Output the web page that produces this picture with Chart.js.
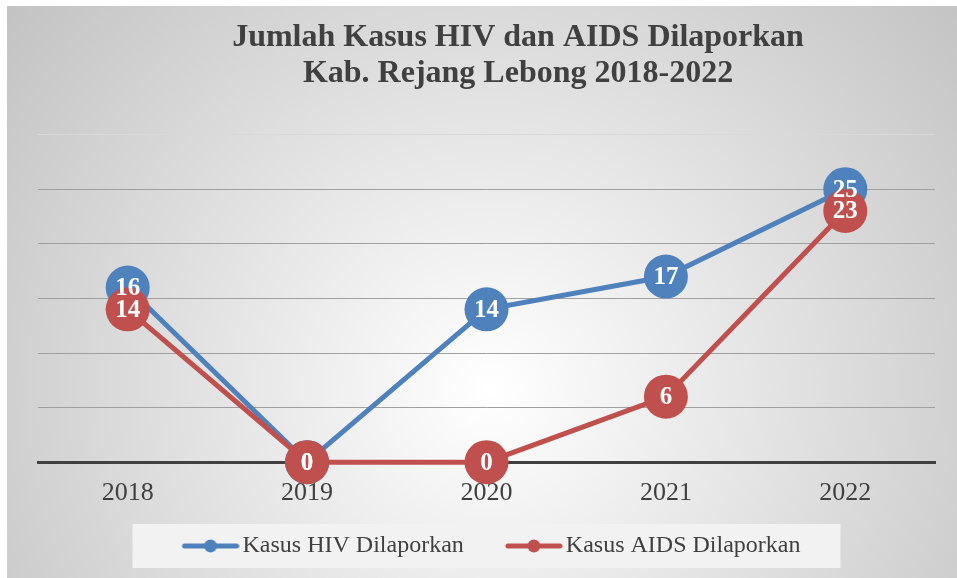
<!DOCTYPE html>
<html>
<head>
<meta charset="utf-8">
<script src="https://cdn.jsdelivr.net/npm/chart.js@4"></script>
<style>
  html, body { margin: 0; padding: 0; background: #fff; }
</style>
</head>
<body>
<canvas id="chart" width="957" height="578"></canvas>
<script>
const years = ["2018", "2019", "2020", "2021", "2022"];
const hivCases = [16, 0, 14, 17, 25];
const aidsCases = [14, 0, 0, 6, 23];
const seriesNames = ["Kasus HIV Dilaporkan", "Kasus AIDS Dilaporkan"];
const titleLines = ["Jumlah Kasus HIV dan AIDS Dilaporkan", "Kab. Rejang Lebong 2018-2022"];

const BLUE = "#4f81bd";
const RED = "#c0504d";
const TEXT = "#404040";

// line + dot symbol for the legend, drawn on the right side of a wider image
function legendSymbol(color) {
    const c = document.createElement("canvas");
    c.width = 99;
    c.height = 14;
    const g = c.getContext("2d");
    g.strokeStyle = color;
    g.lineWidth = 5;
    g.lineCap = "round";
    g.beginPath();
    g.moveTo(44, 7);
    g.lineTo(96, 7);
    g.stroke();
    g.fillStyle = color;
    g.beginPath();
    g.arc(70, 7, 6.5, 0, Math.PI * 2);
    g.fill();
    return c;
}
const legendSymbols = [legendSymbol(BLUE), legendSymbol(RED)];

const background = {
    id: "background",
    beforeDraw(chart) {
        const ctx = chart.ctx;
        ctx.save();
        ctx.fillStyle = "#fff";
        ctx.fillRect(0, 0, chart.width, chart.height);
        const grad = ctx.createRadialGradient(490, 390, 0, 490, 390, 620);
        grad.addColorStop(0, "#ffffff");
        grad.addColorStop(1, "#c2c2c2");
        ctx.fillStyle = grad;
        ctx.fillRect(7, 6, chart.width - 7, chart.height - 6);

        // light box behind the legend
        const hb = chart.legend.legendHitBoxes[0];
        const cx = (chart.chartArea.left + chart.chartArea.right) / 2;
        const cy = hb.top + hb.height / 2;
        ctx.fillStyle = "#f2f2f2";
        ctx.fillRect(cx - 354, cy - 22, 708, 44);
        ctx.restore();
    },
};

// nudge title right and legend left, as in the original
const shiftBlocks = {
    id: "shiftBlocks",
    afterLayout(chart) {
        chart.titleBlock.left += 60;
        chart.legend.left -= 13;
        chart.legend.right -= 13;
    },
};

const pointLabels = {
    id: "pointLabels",
    afterDatasetsDraw(chart) {
        const ctx = chart.ctx;
        ctx.save();
        ctx.font = "bold 25px 'Liberation Serif'";
        ctx.fillStyle = "#fff";
        ctx.textAlign = "center";
        ctx.textBaseline = "middle";
        chart.data.datasets.forEach((ds, i) => {
            chart.getDatasetMeta(i).data.forEach((pt, j) => {
                ctx.fillText(ds.data[j], pt.x, pt.y + 1);
            });
        });
        ctx.restore();
    },
};

new Chart(document.getElementById("chart").getContext("2d"), {
    type: "line",
    data: {
        labels: years,
        datasets: [
            {
                label: seriesNames[0],
                data: hivCases,
                borderColor: BLUE,
                backgroundColor: BLUE,
                pointBackgroundColor: BLUE,
                order: 1,
            },
            {
                label: seriesNames[1],
                data: aidsCases,
                borderColor: RED,
                backgroundColor: RED,
                pointBackgroundColor: RED,
                order: 0,
            },
        ],
    },
    options: {
        responsive: false,
        animation: false,
        datasets: {
            line: {
                borderWidth: 5,
                tension: 0,
                pointRadius: 22,
                pointHoverRadius: 22,
                pointBorderWidth: 0,
                clip: false,
            },
        },
        layout: { padding: { top: 12, left: 38, right: 19, bottom: 10 } },
        plugins: {
            tooltip: { enabled: false },
            title: {
                display: true,
                text: titleLines,
                color: TEXT,
                font: { family: "Liberation Serif", size: 32, weight: "bold", lineHeight: 1.15 },
                padding: { top: 7, bottom: 42 },
            },
            legend: {
                position: "bottom",
                labels: {
                    usePointStyle: true,
                    pointStyleWidth: 81,
                    padding: 9,
                    color: TEXT,
                    font: { family: "Liberation Serif", size: 24 },
                    generateLabels(chart) {
                        const items = Chart.defaults.plugins.legend.labels.generateLabels(chart);
                        items.forEach((it) => {
                            it.pointStyle = legendSymbols[it.datasetIndex];
                        });
                        return items;
                    },
                    sort: (a, b) => a.datasetIndex - b.datasetIndex,
                },
            },
        },
        scales: {
            x: {
                offset: true,
                grid: { display: false, drawTicks: false },
                border: { display: true, color: TEXT, width: 3 },
                ticks: {
                    color: TEXT,
                    font: { family: "Liberation Serif", size: 26, lineHeight: 0.8 },
                    padding: 21,
                },
            },
            y: {
                min: 0,
                max: 30,
                ticks: { display: false, stepSize: 5 },
                grid: {
                    color: (c) => (c.tick && c.tick.value === 30 ? "#d9d9d9" : "#a0a0a0"),
                    drawTicks: false,
                    lineWidth: 1,
                },
                border: { display: false },
            },
        },
    },
    plugins: [background, shiftBlocks, pointLabels],
});
</script>
</body>
</html>
